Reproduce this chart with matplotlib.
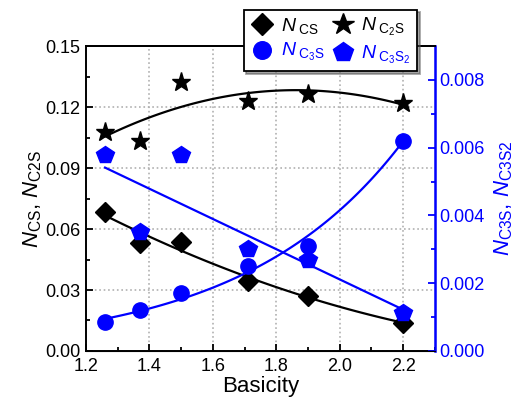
import matplotlib
matplotlib.use('Agg')
import matplotlib.pyplot as plt
import numpy as np
from matplotlib.ticker import MultipleLocator

plt.rcParams['font.family'] = ['Liberation Sans', 'DejaVu Sans']
plt.rcParams['mathtext.fontset'] = 'custom'
plt.rcParams['mathtext.rm'] = 'Liberation Sans'
plt.rcParams['mathtext.it'] = 'Liberation Sans:italic'

# data
basicity = [1.26, 1.37, 1.50, 1.71, 1.90, 2.20]
n_cs = [0.0686, 0.0533, 0.0538, 0.0345, 0.0270, 0.0138]
n_c2s = [0.1075, 0.1032, 0.1325, 0.1232, 0.1262, 0.1222]
n_c3s = [0.00086, 0.00120, 0.00170, 0.00250, 0.00310, 0.00620]
n_c3s2 = [0.00577, 0.00350, 0.00577, 0.00300, 0.00270, 0.00112]

x = np.array(basicity)
xf = np.linspace(x.min(), x.max(), 100)

# fitted curves
fit_cs = np.polyval(np.polyfit(x, n_cs, 2), xf)
fit_c2s = np.polyval(np.polyfit(x, n_c2s, 2), xf)
fit_c3s = np.exp(np.polyval(np.polyfit(x, np.log(n_c3s), 1), xf))
fit_c3s2 = np.polyval(np.polyfit(x, n_c3s2, 1), xf)

blue = '#0000ff'

fig = plt.figure(figsize=(5.31, 4.11), dpi=100)
ax1 = fig.add_axes([0.162, 0.146, 0.657, 0.742])
ax2 = ax1.twinx()

ax1.grid(True, color='#b0b0b0', linestyle=':', linewidth=1.2)
ax1.set_axisbelow(True)

ax1.plot(xf, fit_cs, color='black', lw=1.6)
ax1.plot(xf, fit_c2s, color='black', lw=1.6)
l1, = ax1.plot(x, n_cs, 'kD', ms=10, ls='none', label=r'$N_{\rm\ CS}$')
l2, = ax1.plot(x, n_c2s, 'k*', ms=14, ls='none', label=r'$N_{\rm\ C_2S}$')

ax2.plot(xf, fit_c3s, color=blue, lw=1.6)
ax2.plot(xf, fit_c3s2, color=blue, lw=1.6)
l3, = ax2.plot(x, n_c3s, 'o', color=blue, ms=11, ls='none', label=r'$N_{\rm\ C_3S}$')
l4, = ax2.plot(x, n_c3s2, 'p', color=blue, ms=13, ls='none', label=r'$N_{\rm\ C_3S_2}$')

ax1.set_xlim(1.2, 2.3)
ax1.set_ylim(0, 0.15)
ax2.set_ylim(0, 0.009)
ax1.xaxis.set_major_locator(MultipleLocator(0.2))
ax1.xaxis.set_minor_locator(MultipleLocator(0.1))
ax1.yaxis.set_major_locator(MultipleLocator(0.03))
ax1.yaxis.set_minor_locator(MultipleLocator(0.015))
ax2.yaxis.set_major_locator(MultipleLocator(0.002))
ax2.yaxis.set_minor_locator(MultipleLocator(0.001))
ax1.xaxis.set_major_formatter(matplotlib.ticker.FormatStrFormatter('%.1f'))
ax1.yaxis.set_major_formatter(matplotlib.ticker.FormatStrFormatter('%.2f'))
ax2.yaxis.set_major_formatter(matplotlib.ticker.FormatStrFormatter('%.3f'))

ax1.tick_params(which='both', direction='in', labelsize=13, width=1.3, top=False)
ax1.tick_params(axis='x', pad=5)
ax1.tick_params(axis='y', pad=4)
ax1.tick_params(which='major', length=5)
ax1.tick_params(which='minor', length=3)
ax2.tick_params(which='both', direction='in', labelsize=13, width=1.3, colors=blue, pad=3)
ax2.tick_params(which='major', length=5)
ax2.tick_params(which='minor', length=3)

for s in ['left', 'bottom', 'top']:
    ax1.spines[s].set_linewidth(1.4)
ax2.spines['right'].set_color(blue)
ax2.spines['right'].set_linewidth(1.8)
ax2.spines['left'].set_visible(False)
ax2.spines['top'].set_linewidth(1.4)

ax1.set_xlabel('Basicity', fontsize=16, labelpad=1)
ax1.set_ylabel(r'$N_{\rm CS}$, $N_{\rm C2S}$', fontsize=16, labelpad=1)
ax2.set_ylabel(r'$N_{\rm C3S}$, $N_{\rm C3S2}$', fontsize=16, color=blue, labelpad=6)

leg = fig.legend(handles=[l1, l3, l2, l4], ncol=2, loc='upper center',
                 bbox_to_anchor=(0.622, 1.0), fontsize=14, frameon=True,
                 shadow=True, fancybox=False, handletextpad=0.3,
                 columnspacing=0.3, borderpad=0.3, labelspacing=0.3,
                 handlelength=1.3, markerscale=1.15)
leg.get_frame().set_edgecolor('black')
leg.get_frame().set_linewidth(1.3)
for t, c in zip(leg.get_texts(), ['black', blue, 'black', blue]):
    t.set_color(c)

fig.savefig('out.png', dpi=100)
